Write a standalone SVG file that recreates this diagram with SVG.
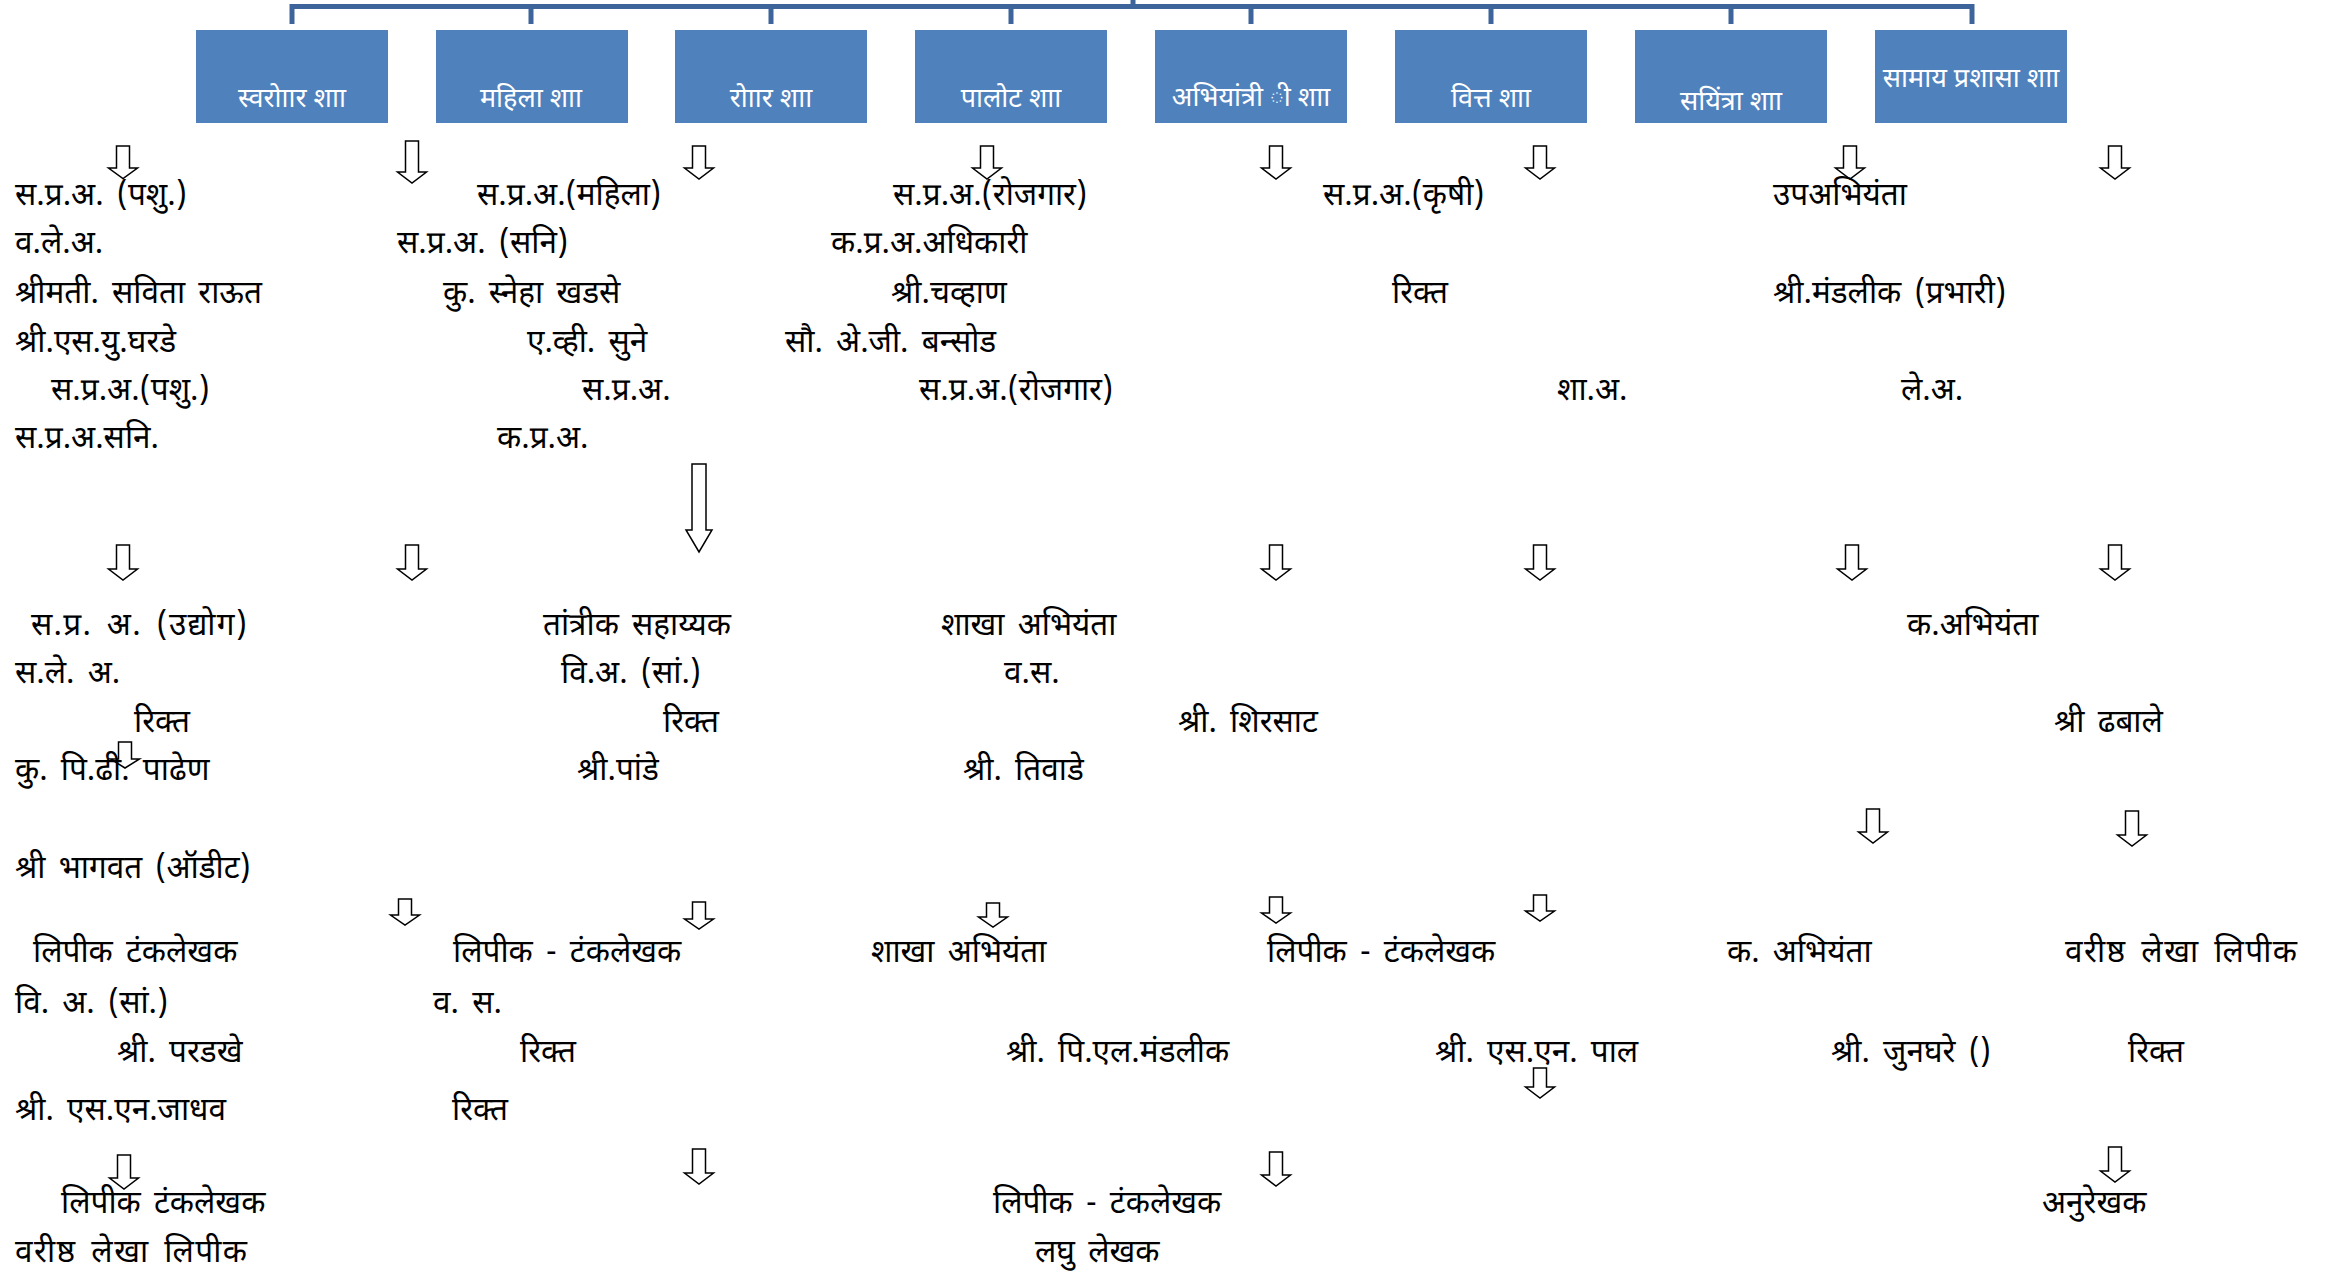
<svg xmlns="http://www.w3.org/2000/svg" width="2346" height="1280" viewBox="0 0 2346 1280">
<style>
.box{fill:#4F81BD;}
.bt{font-family:"Noto Sans Devanagari","Noto Sans","Lohit Devanagari",sans-serif;font-size:27px;fill:#FFFFFF;text-anchor:middle;}
.t{font-family:"Noto Sans Devanagari","Noto Sans","Lohit Devanagari",sans-serif;font-size:31.5px;word-spacing:5px;fill:#000000;}
.ln{stroke:#3E659B;stroke-width:5;fill:none;}
.ar{fill:#FFFFFF;stroke:#000000;stroke-width:1.5;stroke-linejoin:miter;}
</style>
<rect width="2346" height="1280" fill="#FFFFFF"/>
<g id="connectors">
  <path class="ln" d="M1133,0 V6.5 M292,24 V6.5 H1972 V24 M531,6.5 V24 M771,6.5 V24 M1011,6.5 V24 M1251,6.5 V24 M1491,6.5 V24 M1731,6.5 V24"/>
  <!-- row 1 arrows -->
  <path class="ar" d="M116.5,146 H129.5 V168 H137.5 L123,178.5 L108.5,168 H116.5 Z"/>
  <path class="ar" d="M405.5,141 H418.5 V172 H426.5 L412,183 L397.5,172 H405.5 Z"/>
  <path class="ar" d="M692.5,146 H705.5 V168 H713.5 L699,179 L684.5,168 H692.5 Z"/>
  <path class="ar" d="M980.5,146 H993.5 V168 H1001.5 L987,179 L972.5,168 H980.5 Z"/>
  <path class="ar" d="M1269.5,146 H1282.5 V168 H1290.5 L1276,179 L1261.5,168 H1269.5 Z"/>
  <path class="ar" d="M1533.5,146 H1546.5 V168 H1554.5 L1540,179 L1525.5,168 H1533.5 Z"/>
  <path class="ar" d="M1843.5,146 H1856.5 V168 H1864.5 L1850,179 L1835.5,168 H1843.5 Z"/>
  <path class="ar" d="M2108.5,146 H2121.5 V168 H2129.5 L2115,179 L2100.5,168 H2108.5 Z"/>
  <!-- row 2 arrows -->
  <path class="ar" d="M116.5,545 H129.5 V569 H137.5 L123,580 L108.5,569 H116.5 Z"/>
  <path class="ar" d="M405.5,545 H418.5 V569 H426.5 L412,580 L397.5,569 H405.5 Z"/>
  <path class="ar" d="M692,464 H706 V530 H712 L699,552 L686,530 H692 Z"/>
  <path class="ar" d="M1269.5,545 H1282.5 V569 H1290.5 L1276,580 L1261.5,569 H1269.5 Z"/>
  <path class="ar" d="M1533.5,545 H1546.5 V569 H1554.5 L1540,580 L1525.5,569 H1533.5 Z"/>
  <path class="ar" d="M1845.5,545 H1858.5 V569 H1866.5 L1852,580 L1837.5,569 H1845.5 Z"/>
  <path class="ar" d="M2108.5,545 H2121.5 V569 H2129.5 L2115,580 L2100.5,569 H2108.5 Z"/>
  <path class="ar" d="M118.5,742 H131.5 V759 H139.5 L125,768 L110.5,759 H118.5 Z"/>
  <path class="ar" d="M1866.5,809 H1879.5 V832 H1887.5 L1873,843 L1858.5,832 H1866.5 Z"/>
  <path class="ar" d="M2125.5,811 H2138.5 V835 H2146.5 L2132,846 L2117.5,835 H2125.5 Z"/>
  <!-- row 3 arrows -->
  <path class="ar" d="M398.5,899 H411.5 V915 H419.5 L405,925 L390.5,915 H398.5 Z"/>
  <path class="ar" d="M692.5,902 H705.5 V919 H713.5 L699,929 L684.5,919 H692.5 Z"/>
  <path class="ar" d="M986.5,903 H999.5 V917 H1007.5 L993,927 L978.5,917 H986.5 Z"/>
  <path class="ar" d="M1269.5,897 H1282.5 V913 H1290.5 L1276,923 L1261.5,913 H1269.5 Z"/>
  <path class="ar" d="M1533.5,895 H1546.5 V911 H1554.5 L1540,921 L1525.5,911 H1533.5 Z"/>
  <path class="ar" d="M1533.5,1068 H1546.5 V1087 H1554.5 L1540,1098 L1525.5,1087 H1533.5 Z"/>
  <!-- row 4 arrows -->
  <path class="ar" d="M117.5,1155 H130.5 V1178 H138.5 L124,1189 L109.5,1178 H117.5 Z"/>
  <path class="ar" d="M692.5,1149 H705.5 V1173 H713.5 L699,1184 L684.5,1173 H692.5 Z"/>
  <path class="ar" d="M1269.5,1152 H1282.5 V1175 H1290.5 L1276,1186 L1261.5,1175 H1269.5 Z"/>
  <path class="ar" d="M2108.5,1147 H2121.5 V1171 H2129.5 L2115,1182 L2100.5,1171 H2108.5 Z"/>
</g>
<g id="node-swarojgar"><rect class="box" x="196" y="30" width="192" height="93"/><text class="bt" x="292" y="107">स्वरोाार  शाा</text></g>
<g id="node-mahila"><rect class="box" x="436" y="30" width="192" height="93"/><text class="bt" x="531" y="107">महिला शाा</text></g>
<g id="node-rojgar"><rect class="box" x="675" y="30" width="192" height="93"/><text class="bt" x="771" y="107">रोाार शाा</text></g>
<g id="node-palot"><rect class="box" x="915" y="30" width="192" height="93"/><text class="bt" x="1011" y="107">पालोट शाा</text></g>
<g id="node-abhiyantriki"><rect class="box" x="1155" y="30" width="192" height="93"/><text class="bt" x="1251" y="106">अभियांत्री ी शाा</text></g>
<g id="node-vitta"><rect class="box" x="1395" y="30" width="192" height="93"/><text class="bt" x="1491" y="107">वित्त शाा</text></g>
<g id="node-sinchai"><rect class="box" x="1635" y="30" width="192" height="93"/><text class="bt" x="1731" y="110">सयिंत्रा शाा</text></g>
<g id="node-samanya"><rect class="box" x="1875" y="30" width="192" height="93"/><text class="bt" x="1971" y="87">सामाय प्रशासा शाा</text></g>
<g id="col-1">
<text class="t" x="15" y="205">स.प्र.अ. (पशु.)</text>
<text class="t" x="15" y="253">व.ले.अ.</text>
<text class="t" x="15" y="303">श्रीमती. सविता राऊत</text>
<text class="t" x="15" y="352">श्री.एस.यु.घरडे</text>
<text class="t" x="51" y="400">स.प्र.अ.(पशु.)</text>
<text class="t" x="15" y="448">स.प्र.अ.सनि.</text>
<text class="t" x="31" y="635" textLength="216">स.प्र. अ. (उद्योग)</text>
<text class="t" x="15" y="683">स.ले. अ.</text>
<text class="t" x="134" y="732">रिक्त</text>
<text class="t" x="15" y="780">कु. पि.ढी. पाढेण</text>
<text class="t" x="15" y="878">श्री भागवत (ऑडीट)</text>
<text class="t" x="33" y="962">लिपीक टंकलेखक</text>
<text class="t" x="15" y="1013">वि. अ. (सां.)</text>
<text class="t" x="117" y="1062">श्री. परडखे</text>
<text class="t" x="15" y="1120">श्री. एस.एन.जाधव</text>
<text class="t" x="61" y="1213">लिपीक टंकलेखक</text>
<text class="t" x="15" y="1262" textLength="232">वरीष्ठ लेखा लिपीक</text>
</g>
<g id="col-2">
<text class="t" x="477" y="205">स.प्र.अ.(महिला)</text>
<text class="t" x="397" y="253">स.प्र.अ. (सनि)</text>
<text class="t" x="443" y="303">कु. स्नेहा खडसे</text>
<text class="t" x="527" y="352">ए.व्ही. सुने</text>
<text class="t" x="582" y="400">स.प्र.अ.</text>
<text class="t" x="497" y="448">क.प्र.अ.</text>
<text class="t" x="543" y="635">तांत्रीक सहाय्यक</text>
<text class="t" x="561" y="683">वि.अ. (सां.)</text>
<text class="t" x="663" y="732">रिक्त</text>
<text class="t" x="577" y="780">श्री.पांडे</text>
<text class="t" x="453" y="962">लिपीक - टंकलेखक</text>
<text class="t" x="433" y="1013">व. स.</text>
<text class="t" x="520" y="1062">रिक्त</text>
<text class="t" x="452" y="1120">रिक्त</text>
</g>
<g id="col-3">
<text class="t" x="893" y="205">स.प्र.अ.(रोजगार)</text>
<text class="t" x="831" y="253">क.प्र.अ.अधिकारी</text>
<text class="t" x="891" y="303">श्री.चव्हाण</text>
<text class="t" x="785" y="352">सौ. अे.जी. बन्सोड</text>
<text class="t" x="919" y="400">स.प्र.अ.(रोजगार)</text>
<text class="t" x="941" y="635">शाखा अभियंता</text>
<text class="t" x="1004" y="683">व.स.</text>
<text class="t" x="963" y="780">श्री. तिवाडे</text>
<text class="t" x="871" y="962">शाखा अभियंता</text>
<text class="t" x="1006" y="1062">श्री. पि.एल.मंडलीक</text>
<text class="t" x="993" y="1213">लिपीक - टंकलेखक</text>
<text class="t" x="1035" y="1262">लघु लेखक</text>
</g>
<g id="col-4">
<text class="t" x="1323" y="205">स.प्र.अ.(कृषी)</text>
<text class="t" x="1392" y="303">रिक्त</text>
<text class="t" x="1557" y="400">शा.अ.</text>
<text class="t" x="1178" y="732">श्री. शिरसाट</text>
<text class="t" x="1267" y="962">लिपीक - टंकलेखक</text>
<text class="t" x="1435" y="1062">श्री. एस.एन. पाल</text>
</g>
<g id="col-5">
<text class="t" x="1773" y="205">उपअभियंता</text>
<text class="t" x="1773" y="303">श्री.मंडलीक (प्रभारी)</text>
<text class="t" x="1901" y="400">ले.अ.</text>
<text class="t" x="1907" y="635">क.अभियंता</text>
<text class="t" x="2054" y="732">श्री ढबाले</text>
<text class="t" x="1727" y="962">क. अभियंता</text>
<text class="t" x="1831" y="1062">श्री. जुनघरे ()</text>
<text class="t" x="2065" y="962" textLength="232">वरीष्ठ लेखा लिपीक</text>
<text class="t" x="2128" y="1062">रिक्त</text>
<text class="t" x="2042" y="1213">अनुरेखक</text>
</g>
</svg>
